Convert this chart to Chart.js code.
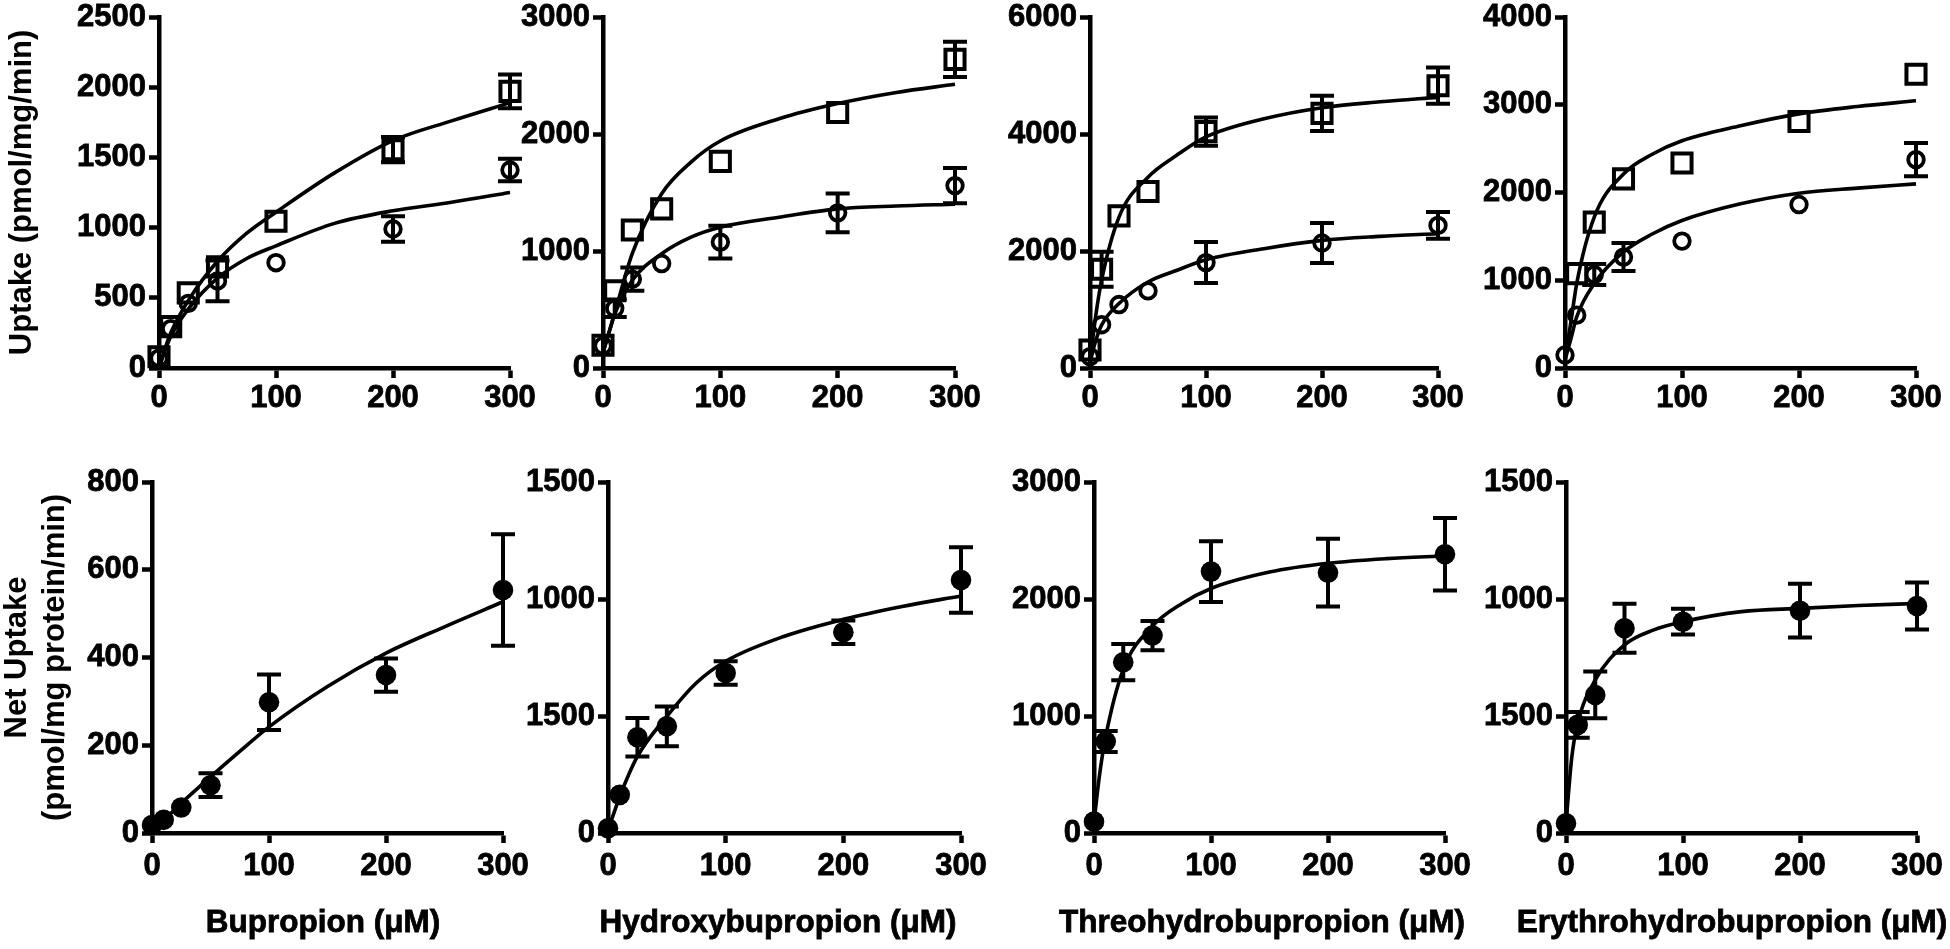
<!DOCTYPE html>
<html>
<head>
<meta charset="utf-8">
<script src="https://cdn.jsdelivr.net/npm/chart.js@4.4.1/dist/chart.umd.min.js"></script>
<style>
  html, body { margin: 0; padding: 0; background: #fff; }
  body { width: 1950px; height: 949px; overflow: hidden; position: relative; }
  canvas { position: absolute; }
</style>
</head>
<body>
<script>
// ---------------- DATA ----------------
const concentrations = [0, 10, 25, 50, 100, 200, 300];
const fitConcentrations = [0, 5, 10, 25, 50, 75, 100, 150, 200, 250, 300];
const xTickLabels = ['0', '100', '200', '300'];

// Top row: uptake (squares / circles), mean, SEM, fitted curve
const bupSquares      = [80, 295, 535, 720, 1045, 1555, 1970];
const bupSquaresErr   = [0, 0, 0, 0, 0, 90, 120];
const bupCircles      = [70, 280, 460, 620, 750, 990, 1410];
const bupCirclesErr   = [0, 0, 0, 145, 0, 90, 80];
const bupSquaresFit   = [0, 135, 250, 480, 760, 960, 1110, 1390, 1620, 1760, 1890];
const bupCirclesFit   = [0, 120, 225, 420, 640, 780, 870, 1030, 1120, 1180, 1250];

const ohSquares       = [195, 660, 1180, 1360, 1766, 2184, 2638];
const ohSquaresErr    = [0, 0, 0, 0, 0, 0, 150];
const ohCircles       = [190, 510, 760, 893, 1076, 1326, 1559];
const ohCirclesErr    = [0, 75, 100, 0, 140, 165, 150];
const ohSquaresFit    = [130, 300, 470, 980, 1490, 1760, 1940, 2130, 2260, 2355, 2425];
const ohCirclesFit    = [130, 300, 460, 750, 977, 1119, 1204, 1289, 1360, 1385, 1400];

const threoSquares    = [307, 1688, 2600, 3018, 4041, 4353, 4825];
const threoSquaresErr = [0, 300, 0, 0, 240, 300, 310];
const threoCircles    = [193, 740, 1085, 1318, 1802, 2137, 2438];
const threoCirclesErr = [0, 0, 0, 0, 350, 340, 230];
const threoSquaresFit = [100, 900, 1500, 2580, 3262, 3640, 3950, 4260, 4450, 4550, 4626];
const threoCirclesFit = [100, 470, 733, 1103, 1471, 1671, 1850, 2040, 2182, 2250, 2296];

const erySquares      = [null, 1076, 1662, 2155, 2337, 2810, 3348];
const erySquaresErr   = [0, 0, 0, 0, 0, 0, 0];
const eryCircles      = [148, 602, 1065, 1264, 1446, 1863, 2374];
const eryCirclesErr   = [0, 0, 120, 160, 0, 0, 190];
const erySquaresFit   = [100, 520, 962, 1719, 2211, 2439, 2590, 2761, 2896, 2980, 3045];
const eryCirclesFit   = [90, 330, 583, 962, 1322, 1530, 1681, 1871, 1992, 2050, 2098];

// Bottom row: net uptake (filled circles), mean, SEM, fitted curve
const bupNet      = [18, 30, 58, 109, 298, 360, 554];
const bupNetErr   = [0, 0, 0, 27, 63, 38, 127];
const bupNetFit   = [11, 20, 30, 68, 128, 186, 242, 334, 410, 470, 527];

const ohNet       = [20, 163, 409, 456, 684, 858, 1081];
const ohNetErr    = [0, 0, 82, 85, 50, 50, 140];
const ohNetFit    = [13, 85, 156, 327, 498, 641, 734, 841, 913, 968, 1013];

const threoNet    = [97, 782, 1460, 1688, 2234, 2225, 2383];
const threoNetErr = [0, 90, 155, 125, 260, 290, 310];
const threoNetFit = [97, 514, 825, 1397, 1768, 1960, 2090, 2230, 2305, 2345, 2368];

const eryNet      = [41, 462, 590, 875, 903, 950, 970];
const eryNetErr   = [0, 55, 100, 105, 55, 115, 100];
const eryNetFit   = [41, 326, 469, 654, 804, 868, 903, 946, 960, 972, 981];

// Y tick labels (as printed in the figure)
const yTicksBupTop   = ['0', '500', '1000', '1500', '2000', '2500'];
const yTicksOhTop    = ['0', '1000', '2000', '3000'];
const yTicksThreoTop = ['0', '2000', '4000', '6000'];
const yTicksEryTop   = ['0', '1000', '2000', '3000', '4000'];
const yTicksBupNet   = ['0', '200', '400', '600', '800'];
const yTicksOhNet    = ['0', '1500', '1000', '1500'];
const yTicksThreoNet = ['0', '1000', '2000', '3000'];
const yTicksEryNet   = ['0', '1500', '1000', '1500'];

const xTitles = ['Bupropion (μM)', 'Hydroxybupropion (μM)', 'Threohydrobupropion (μM)', 'Erythrohydrobupropion (μM)'];
const yTitleTop = 'Uptake (pmol/mg/min)';
const yTitleBottom = ['Net Uptake', '(pmol/mg protein/min)'];

// ---------------- RENDERING ----------------
const FONT = "'Liberation Sans', Arial, Helvetica, sans-serif";
Chart.defaults.font.family = FONT;
Chart.defaults.color = '#000';

const PAD_TOP = 25, PAD_RIGHT = 35;

const errorBarPlugin = {
  id: 'errorBars',
  afterDatasetsDraw(chart) {
    const ctx = chart.ctx, xs = chart.scales.x, ys = chart.scales.y;
    chart.data.datasets.forEach(ds => {
      if (!ds.errors) return;
      ds.data.forEach((p, i) => {
        const e = ds.errors[i];
        if (!e || p.y === null) return;
        const px = xs.getPixelForValue(p.x);
        const yT = ys.getPixelForValue(p.y + e);
        const yB = ys.getPixelForValue(p.y - e);
        ctx.save();
        ctx.strokeStyle = '#000';
        ctx.lineWidth = 4;
        ctx.lineCap = 'butt';
        ctx.beginPath();
        ctx.moveTo(px, yT); ctx.lineTo(px, yB);
        ctx.moveTo(px - 12, yT); ctx.lineTo(px + 12, yT);
        ctx.moveTo(px - 12, yB); ctx.lineTo(px + 12, yB);
        ctx.stroke();
        ctx.restore();
      });
    });
  }
};

const xTitlePlugin = {
  id: 'xTitle',
  afterDraw(chart, args, opts) {
    if (!opts || !opts.text) return;
    const ctx = chart.ctx, ca = chart.chartArea;
    ctx.save();
    ctx.font = 'bold 31.5px ' + FONT;
    ctx.fillStyle = '#000';
    ctx.strokeStyle = '#000';
    ctx.lineWidth = 0.8;
    ctx.textAlign = 'center';
    ctx.textBaseline = 'middle';
    const x = (ca.left + ca.right) / 2 + opts.dx, y = ca.bottom + opts.dy;
    ctx.fillText(opts.text, x, y);
    ctx.strokeText(opts.text, x, y);
    ctx.restore();
  }
};

function pts(xs, ys) { return xs.map((x, i) => ({ x: x, y: ys[i] })); }

function curveDS(vals) {
  return { data: pts(fitConcentrations, vals), showLine: true, borderColor: '#000', borderWidth: 3.6,
           pointRadius: 0, cubicInterpolationMode: 'monotone', clip: false, order: 2 };
}
function squareDS(vals, errs) {
  return { data: pts(concentrations, vals), errors: errs, showLine: false, pointStyle: 'rect',
           pointRadius: 13.5, borderWidth: 4, borderColor: '#000', backgroundColor: 'rgba(0,0,0,0)', clip: false, order: 1 };
}
function openCircleDS(vals, errs) {
  return { data: pts(concentrations, vals), errors: errs, showLine: false, pointStyle: 'circle',
           pointRadius: 7.8, borderWidth: 3.8, borderColor: '#000', backgroundColor: 'rgba(0,0,0,0)', clip: false, order: 1 };
}
function filledCircleDS(vals, errs) {
  return { data: pts(concentrations, vals), errors: errs, showLine: false, pointStyle: 'circle',
           pointRadius: 10.3, borderWidth: 0, borderColor: '#000', backgroundColor: '#000', clip: false, order: 1 };
}

const panels = [
  // top row
  { plotLeft: 159, plotTop: 17, plotW: 351, plotH: 351, yW: 159, xH: 50, tickPad: 2,
    yMax: 2500, yStep: 500, yTicks: yTicksBupTop, yTitle: yTitleTop, yTitlePad: 2.6,
    datasets: [curveDS(bupSquaresFit), curveDS(bupCirclesFit), squareDS(bupSquares, bupSquaresErr), openCircleDS(bupCircles, bupCirclesErr)] },
  { plotLeft: 603, plotTop: 17, plotW: 352, plotH: 351, yW: 110, xH: 50, tickPad: 2,
    yMax: 3000, yStep: 1000, yTicks: yTicksOhTop,
    datasets: [curveDS(ohSquaresFit), curveDS(ohCirclesFit), squareDS(ohSquares, ohSquaresErr), openCircleDS(ohCircles, ohCirclesErr)] },
  { plotLeft: 1090, plotTop: 17, plotW: 348, plotH: 351, yW: 110, xH: 50, tickPad: 2,
    yMax: 6000, yStep: 2000, yTicks: yTicksThreoTop,
    datasets: [curveDS(threoSquaresFit), curveDS(threoCirclesFit), squareDS(threoSquares, threoSquaresErr), openCircleDS(threoCircles, threoCirclesErr)] },
  { plotLeft: 1565, plotTop: 17, plotW: 351, plotH: 351, yW: 110, xH: 50, tickPad: 2,
    yMax: 4000, yStep: 1000, yTicks: yTicksEryTop,
    datasets: [curveDS(erySquaresFit), curveDS(eryCirclesFit), squareDS(erySquares, erySquaresErr), openCircleDS(eryCircles, eryCirclesErr)] },
  // bottom row
  { plotLeft: 152, plotTop: 482, plotW: 351, plotH: 351, yW: 157, xH: 115, tickPad: 5,
    yMax: 800, yStep: 200, yTicks: yTicksBupNet, yTitle: yTitleBottom, yTitlePad: 2.6,
    xTitle: xTitles[0], xTitleDx: -4.5,
    datasets: [curveDS(bupNetFit), filledCircleDS(bupNet, bupNetErr)] },
  { plotLeft: 608, plotTop: 482, plotW: 353, plotH: 351, yW: 110, xH: 115, tickPad: 5,
    yMax: 1500, yStep: 500, yTicks: yTicksOhNet,
    xTitle: xTitles[1], xTitleDx: -6.5,
    datasets: [curveDS(ohNetFit), filledCircleDS(ohNet, ohNetErr)] },
  { plotLeft: 1094, plotTop: 482, plotW: 351, plotH: 351, yW: 110, xH: 115, tickPad: 5,
    yMax: 3000, yStep: 1000, yTicks: yTicksThreoNet,
    xTitle: xTitles[2], xTitleDx: -7.5,
    datasets: [curveDS(threoNetFit), filledCircleDS(threoNet, threoNetErr)] },
  { plotLeft: 1566, plotTop: 482, plotW: 351, plotH: 351, yW: 110, xH: 115, tickPad: 5,
    yMax: 1500, yStep: 500, yTicks: yTicksEryNet,
    xTitle: xTitles[3], xTitleDx: -9.5,
    datasets: [curveDS(eryNetFit), filledCircleDS(eryNet, eryNetErr)] }
];

const tickFont = { size: 31, weight: 'bold' };

panels.forEach(p => {
  const canvas = document.createElement('canvas');
  const left = p.plotLeft - p.yW, top = p.plotTop - PAD_TOP;
  const w = p.yW + p.plotW + PAD_RIGHT, h = PAD_TOP + p.plotH + p.xH;
  canvas.width = w; canvas.height = h;
  canvas.style.left = left + 'px'; canvas.style.top = top + 'px';
  canvas.style.width = w + 'px'; canvas.style.height = h + 'px';
  document.body.appendChild(canvas);

  new Chart(canvas.getContext('2d'), {
    type: 'scatter',
    data: { datasets: p.datasets },
    plugins: [errorBarPlugin, xTitlePlugin],
    options: {
      responsive: false,
      animation: false,
      events: [],
      devicePixelRatio: 1,
      layout: { padding: { top: PAD_TOP, right: PAD_RIGHT, left: 0, bottom: 0 } },
      plugins: {
        legend: { display: false },
        tooltip: { enabled: false },
        xTitle: { text: p.xTitle || '', dx: p.xTitleDx || 0, dy: 90 }
      },
      scales: {
        x: {
          type: 'linear', position: 'bottom', min: 0, max: 300, offset: false,
          afterFit: s => { s.height = p.xH; },
          ticks: { stepSize: 100, font: tickFont, color: '#000', padding: p.tickPad, maxRotation: 0,
                   textStrokeColor: '#000', textStrokeWidth: 0.8,
                   callback: (v, i) => xTickLabels[i] },
          grid: { display: true, drawOnChartArea: false, drawTicks: true, tickLength: 10, tickWidth: 4.5, tickColor: '#000' },
          border: { display: true, color: '#000', width: 4.5 }
        },
        y: {
          type: 'linear', position: 'left', min: 0, max: p.yMax,
          afterFit: s => { s.width = p.yW; },
          ticks: { stepSize: p.yStep, font: tickFont, color: '#000', padding: 3,
                   textStrokeColor: '#000', textStrokeWidth: 0.8,
                   callback: (v, i) => p.yTicks[i] },
          grid: { display: true, drawOnChartArea: false, drawTicks: true, tickLength: 10, tickWidth: 4.5, tickColor: '#000' },
          border: { display: true, color: '#000', width: 4.5 },
          title: p.yTitle ? { display: true, text: p.yTitle, color: '#000',
                   font: { size: 31, weight: 'bold', lineHeight: 1.25 }, padding: { top: p.yTitlePad, bottom: 0 } }
                 : { display: false }
        }
      }
    }
  });
});
</script>
</body>
</html>
